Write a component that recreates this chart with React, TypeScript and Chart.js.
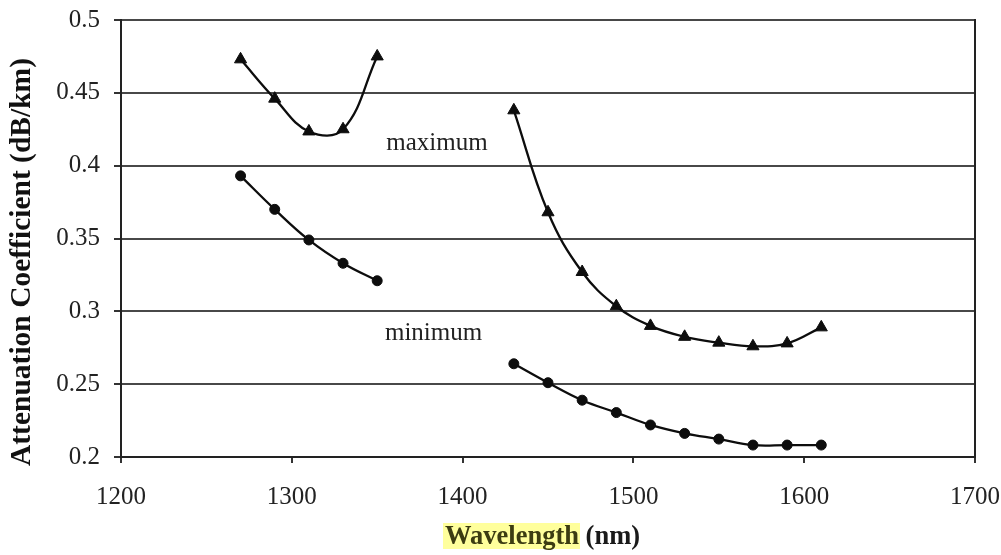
import React, { useEffect, useRef } from 'react';
import { Chart, registerables } from 'chart.js';

Chart.register(...registerables);

// ---- data ----
const WL_LEFT = [1270, 1290, 1310, 1330, 1350];
const MAX_LEFT = [0.473, 0.446, 0.4235, 0.425, 0.475];
const MIN_LEFT = [0.393, 0.370, 0.349, 0.333, 0.321];

const WL_RIGHT = [1430, 1450, 1470, 1490, 1510, 1530, 1550, 1570, 1590, 1610];
const MAX_RIGHT = [0.438, 0.368, 0.327, 0.3035, 0.29, 0.2825, 0.2785, 0.276, 0.278, 0.289];
const MIN_RIGHT = [0.264, 0.251, 0.239, 0.2305, 0.222, 0.2162, 0.2123, 0.2082, 0.2082, 0.2082];

const X_TICKS = [1200, 1300, 1400, 1500, 1600, 1700];
const Y_TICKS = [0.2, 0.25, 0.3, 0.35, 0.4, 0.45, 0.5];

const NOTES = [
  { text: 'maximum', x: 1385, y: 0.411 },
  { text: 'minimum', x: 1383, y: 0.2805 },
];

const Y_TITLE = 'Attenuation Coefficient (dB/km)';
const X_TITLE_MAIN = 'Wavelength';
const X_TITLE_UNIT = ' (nm)';

const FAMILY = '"Liberation Serif", "Times New Roman", serif';

const pts = (xs: number[], ys: number[]) => xs.map((x, i) => ({ x, y: ys[i] }));

const noPad = (s: any) => {
  s.paddingTop = 0;
  s.paddingBottom = 0;
  s.paddingLeft = 0;
  s.paddingRight = 0;
};

const decor = {
  id: 'decor',
  afterDraw(chart: any) {
    const { ctx, chartArea, scales } = chart;
    ctx.save();
    // right border
    ctx.strokeStyle = '#222';
    ctx.lineWidth = 2;
    ctx.beginPath();
    ctx.moveTo(chartArea.right, chartArea.top - 1);
    ctx.lineTo(chartArea.right, chartArea.bottom + 1);
    ctx.stroke();

    // annotations
    ctx.fillStyle = '#222';
    ctx.font = `25px ${FAMILY}`;
    ctx.textAlign = 'center';
    ctx.textBaseline = 'alphabetic';
    NOTES.forEach((n) => {
      ctx.fillText(n.text, scales.x.getPixelForValue(n.x), scales.y.getPixelForValue(n.y));
    });

    // y title
    ctx.save();
    ctx.translate(22, 262);
    ctx.rotate(-Math.PI / 2);
    ctx.font = `bold 29.5px ${FAMILY}`;
    ctx.textAlign = 'center';
    ctx.textBaseline = 'middle';
    ctx.fillStyle = '#111';
    ctx.fillText(Y_TITLE, 0, 0);
    ctx.restore();

    // x title with highlight
    ctx.font = `bold 26.5px ${FAMILY}`;
    ctx.textAlign = 'left';
    ctx.textBaseline = 'alphabetic';
    const x0 = 445;
    const base = 544;
    const w1 = ctx.measureText(X_TITLE_MAIN).width;
    ctx.fillStyle = '#ffff9c';
    ctx.fillRect(x0 - 2, 523, w1 + 3, 26);
    ctx.fillStyle = '#3c3c12';
    ctx.fillText(X_TITLE_MAIN, x0, base);
    ctx.fillStyle = '#1a1a1a';
    ctx.fillText(X_TITLE_UNIT, x0 + w1, base);
    ctx.restore();
  },
};

export default function App() {
  const ref = useRef<HTMLCanvasElement | null>(null);

  useEffect(() => {
    document.body.style.margin = '0';
    const canvas = ref.current;
    if (!canvas) return;
    const line = (data: any, style: string, radius: number) => ({
      data,
      showLine: true,
      borderColor: '#0d0d0d',
      backgroundColor: '#0d0d0d',
      borderWidth: 2.3,
      pointStyle: style,
      pointRadius: radius,
      pointBackgroundColor: '#0d0d0d',
      pointBorderColor: '#0d0d0d',
      pointBorderWidth: 1,
      tension: 0.4,
    });
    const chart = new Chart(canvas, {
      type: 'scatter',
      data: {
        datasets: [
          line(pts(WL_LEFT, MAX_LEFT), 'triangle', 7),
          line(pts(WL_LEFT, MIN_LEFT), 'circle', 5),
          line(pts(WL_RIGHT, MAX_RIGHT), 'triangle', 7),
          line(pts(WL_RIGHT, MIN_RIGHT), 'circle', 5),
        ] as any,
      },
      options: {
        responsive: false,
        animation: false,
        layout: { padding: { top: 20, right: 26, left: 0, bottom: 0 } },
        plugins: { legend: { display: false }, tooltip: { enabled: false } },
        scales: {
          x: {
            type: 'linear',
            min: 1200,
            max: 1700,
            afterBuildTicks: (s: any) => {
              s.ticks = X_TICKS.map((v) => ({ value: v }));
            },
            afterFit: (s: any) => {
              s.height = 98;
              noPad(s);
            },
            grid: { drawOnChartArea: false, drawTicks: true, tickLength: 6, color: '#333', lineWidth: 2 },
            border: { display: true, color: '#222', width: 2 },
            ticks: {
              color: '#222',
              font: { size: 25, family: FAMILY },
              padding: 19,
              maxRotation: 0,
              autoSkip: false,
              callback: (v: any) => String(v),
            },
          },
          y: {
            type: 'linear',
            min: 0.2,
            max: 0.5,
            afterBuildTicks: (s: any) => {
              s.ticks = Y_TICKS.map((v) => ({ value: v }));
            },
            afterFit: (s: any) => {
              s.width = 121;
              noPad(s);
            },
            grid: { color: '#484848', lineWidth: 2, tickLength: 7, tickColor: '#333' },
            border: { display: true, color: '#222', width: 2 },
            ticks: {
              color: '#222',
              font: { size: 25, family: FAMILY },
              padding: 14,
              autoSkip: false,
              callback: (v: any) => String(Number(Number(v).toFixed(2))),
            },
          },
        },
      } as any,
      plugins: [decor],
    });
    return () => chart.destroy();
  }, []);

  return (
    <div style={{ position: 'fixed', left: 0, top: 0, width: 1001, height: 555, background: '#fff' }}>
      <canvas ref={ref} width={1001} height={555} style={{ display: 'block' }} />
    </div>
  );
}
